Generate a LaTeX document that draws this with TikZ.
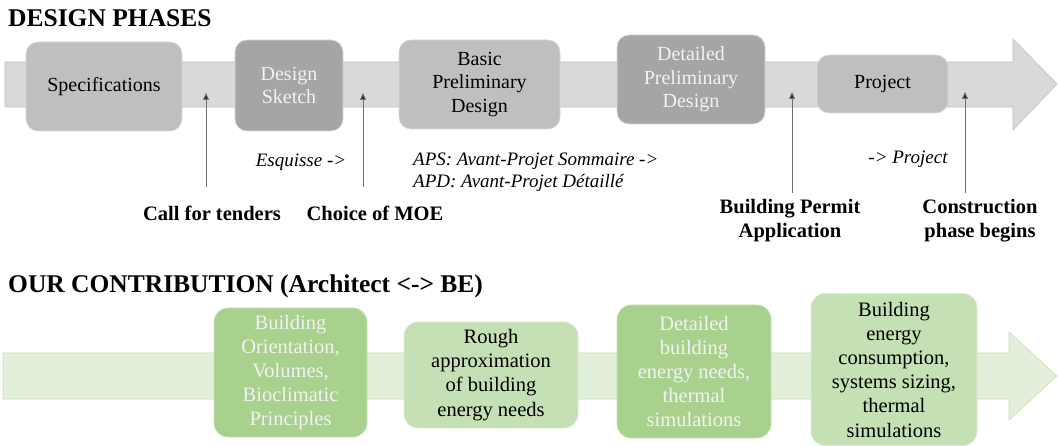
\documentclass[tikz,border=0pt]{standalone}
\usepackage{fontspec}
\setmainfont{Liberation Serif}
\usetikzlibrary{arrows.meta}
\definecolor{shaftgray}{HTML}{D9D9D9}
\definecolor{shaftline}{HTML}{BFBFBF}
\definecolor{boxlight}{HTML}{BFBFBF}
\definecolor{boxdark}{HTML}{A5A5A5}
\definecolor{gshaft}{HTML}{E2EFDA}
\definecolor{gshaftline}{HTML}{C5E0B4}
\definecolor{gdark}{HTML}{A9D18E}
\definecolor{glight}{HTML}{C5E0B4}
\definecolor{markline}{HTML}{6F6F6F}
\newcommand\bxfont{\fontsize{20}{23.5}\selectfont}
\newcommand\gbxfont{\fontsize{20.5}{24.2}\selectfont}
\newcommand\lblfont{\fontsize{20.5}{24}\selectfont\bfseries}
\newcommand\itfont{\fontsize{19}{22}\selectfont\itshape}
\newcommand\ttlfont{\fontsize{25.5}{30}\selectfont\bfseries}
\begin{document}
\begin{tikzpicture}[x=1pt,y=-1pt,
  graybox/.style={rounded corners=12pt, inner sep=0pt, align=center, font=\bxfont, draw=white!40!boxlight, line width=0.6pt},
  lightbox/.style={graybox, fill=boxlight, text=black},
  darkbox/.style={graybox, fill=boxdark, text=white!95!black},
  greenbox/.style={rounded corners=14pt, inner sep=0pt, align=center, font=\gbxfont, line width=0.6pt},
  gdarkbox/.style={greenbox, fill=gdark, draw=white!40!gdark, text=white!95!black},
  glightbox/.style={greenbox, fill=glight, draw=white!40!glight, text=black},
  marker/.style={draw=markline, line width=0.9pt, -{Triangle[length=7pt,width=6pt,fill=black!85]}},
  lbl/.style={inner sep=0pt, align=center, font=\lblfont, anchor=base},
  itl/.style={inner sep=0pt, font=\itfont, anchor=base},
  ttl/.style={inner sep=0pt, font=\ttlfont, anchor=base west}
]
\useasboundingbox (0,0) rectangle (1058,446);

% titles
\node[ttl] (t1) at (8,27) {DESIGN PHASES};
\node[ttl] (t2) at (8,293) {OUR CONTRIBUTION (Architect <-> BE)};

% gray arrow
\draw[fill=shaftgray, draw=shaftline, line width=0.6pt]
  (5,62) -- (1013,62) -- (1013,39) -- (1057,84) -- (1013,130) -- (1013,107) -- (5,107) -- cycle;

% green arrow
\draw[fill=gshaft, draw=gshaftline, line width=0.6pt]
  (3,353) -- (1009,353) -- (1009,332) -- (1057,376) -- (1009,420) -- (1009,399) -- (3,399) -- cycle;

% phase boxes
\node[lightbox, minimum width=156pt, minimum height=89pt] (spec) at (104,86.5) {Specifications};
\node[darkbox, minimum width=108pt, minimum height=91pt] (sketch) at (289,85.5) {Design\\Sketch};
\node[lightbox, minimum width=161pt, minimum height=89pt] (bpd) at (479.5,84.5) {Basic\\Preliminary\\Design};
\node[darkbox, minimum width=148pt, minimum height=89pt] (dpd) at (691,79.5) {Detailed\\Preliminary\\Design};
\node[lightbox, minimum width=131pt, minimum height=58pt] (proj) at (882.5,84) {Project};

% italic notes
\node[itl, anchor=base] (esq) at (301,167) {Esquisse ->};
\node[itl, anchor=base west] (aps) at (413,166) {APS: Avant-Projet Sommaire ->};
\node[itl, anchor=base west] (apd) at (413,188) {APD: Avant-Projet Détaillé};
\node[itl, anchor=base] (pj) at (908,164) {-> Project};

% milestones
\node[lbl] (call) at (212,221) {Call for tenders};
\node[lbl] (moe) at (375,221) {Choice of MOE};
\node[lbl] (bpa) at (790,238) {Building Permit\\Application};
\node[lbl] (cpb) at (980,238) {Construction\\phase begins};

\coordinate (c1b) at (206,187); \coordinate (c1t) at (206,93);
\coordinate (c2b) at (363,187); \coordinate (c2t) at (363,93);
\coordinate (c3b) at (792,193); \coordinate (c3t) at (792,92);
\coordinate (c4b) at (965,193); \coordinate (c4t) at (965,92);
\draw[marker] (c1b) -- (c1t);
\draw[marker] (c2b) -- (c2t);
\draw[marker] (c3b) -- (c3t);
\draw[marker] (c4b) -- (c4t);

% contribution boxes
\node[gdarkbox, minimum width=153pt, minimum height=129pt] (g1) at (290.5,372.5) {Building\\Orientation,\\Volumes,\\Bioclimatic\\Principles};
\node[glightbox, minimum width=174pt, minimum height=106pt] (g2) at (491,375) {Rough\\approximation\\of building\\energy needs};
\node[gdarkbox, minimum width=154pt, minimum height=133pt] (g3) at (694,371.5) {Detailed\\building\\energy needs,\\thermal\\simulations};
\node[glightbox, minimum width=166pt, minimum height=152pt] (g4) at (894,369.5) {Building\\energy\\consumption,\\systems sizing,\\thermal\\simulations};
\end{tikzpicture}
\end{document}
